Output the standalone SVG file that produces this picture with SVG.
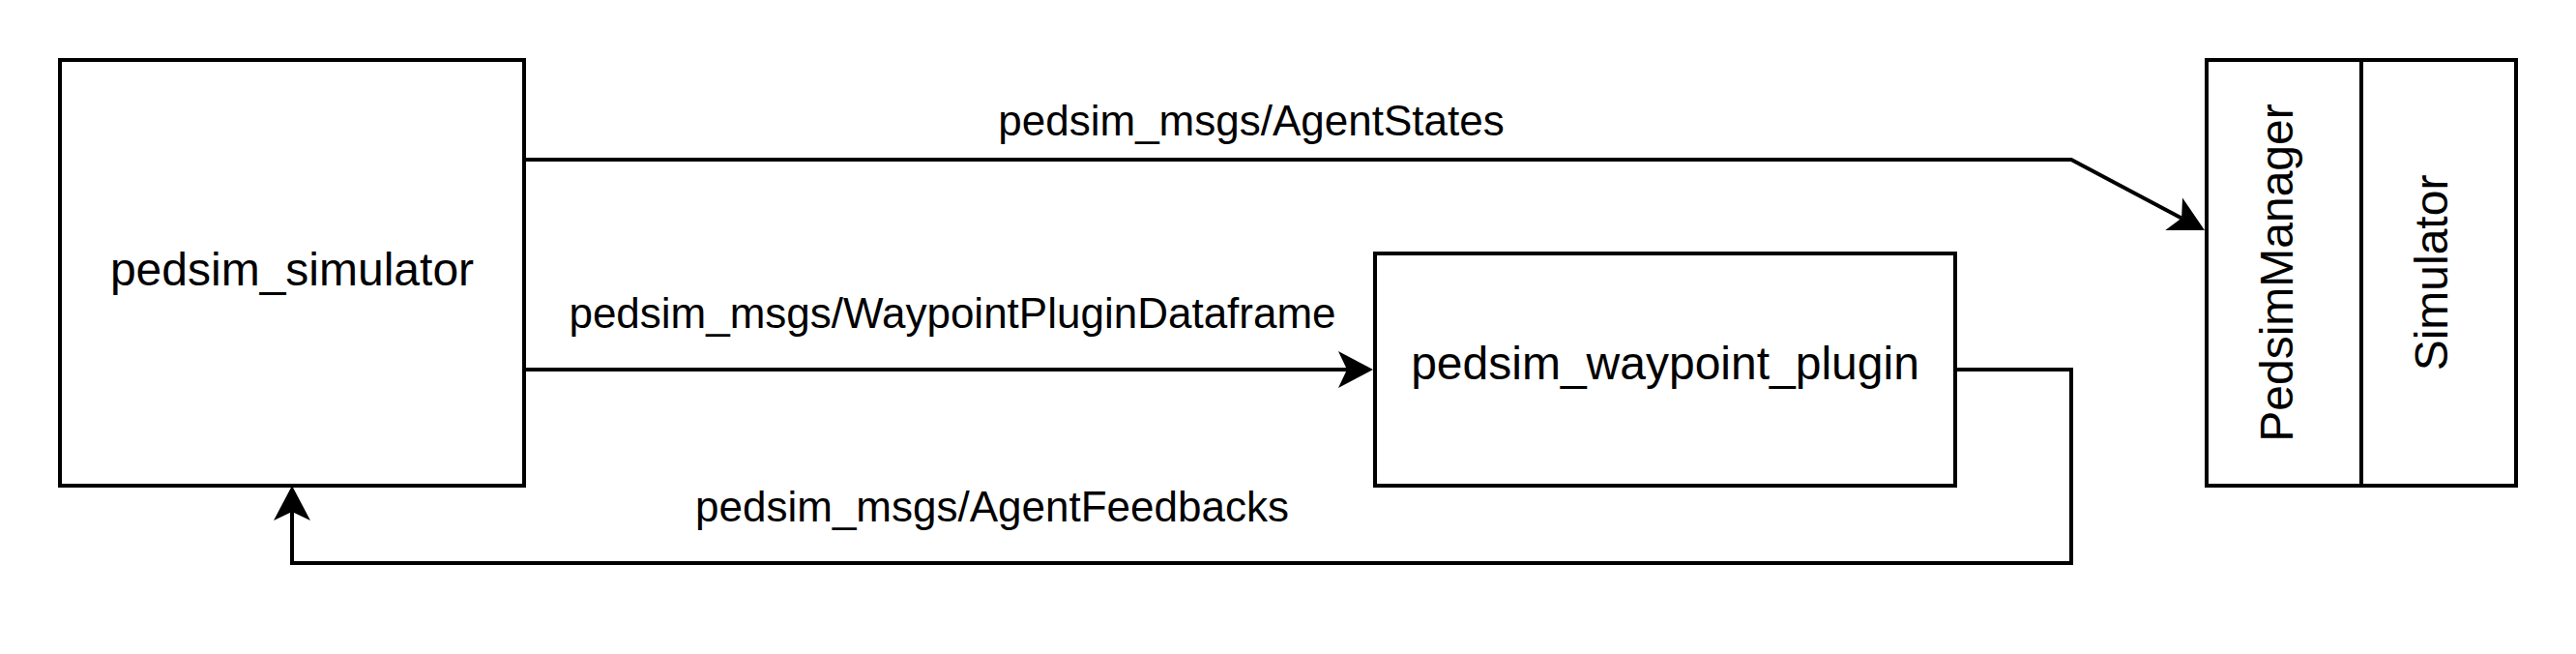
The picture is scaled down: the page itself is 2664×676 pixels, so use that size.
<svg xmlns="http://www.w3.org/2000/svg" width="2664" height="676" viewBox="0 0 2664 676">
  <style>
    .box { fill: #ffffff; stroke: #000000; stroke-width: 4; }
    .edge { fill: none; stroke: #000000; stroke-width: 4; }
    .lbl { font-family: "Liberation Sans", Arial, Helvetica, sans-serif; font-size: 48px; fill: #000000; text-anchor: middle; }
    .elbl { font-family: "Liberation Sans", Arial, Helvetica, sans-serif; font-size: 44px; fill: #000000; text-anchor: middle; }
  </style>
  <defs>
    <marker id="arrow" markerUnits="userSpaceOnUse" viewBox="0 -20 40 40" markerWidth="40" markerHeight="40" refX="9" refY="0" orient="auto" overflow="visible">
      <path d="M36,0 L0,-19 L9,0 L0,19 Z" fill="#000000"/>
    </marker>
  </defs>
  <rect width="2664" height="676" fill="#ffffff"/>

  <g id="connectors">
    <path class="edge" d="M542,165 L2142,165 L2256.1,225.4" marker-end="url(#arrow)"/>
    <path class="edge" d="M542,382 L1393,382" marker-end="url(#arrow)"/>
    <path class="edge" d="M2022,382 L2142,382 L2142,582 L302,582 L302,529" marker-end="url(#arrow)"/>
    <text class="elbl" x="1294" y="140">pedsim_msgs/AgentStates</text>
    <text class="elbl" x="985" y="339">pedsim_msgs/WaypointPluginDataframe</text>
    <text class="elbl" x="1026" y="539">pedsim_msgs/AgentFeedbacks</text>
  </g>

  <g id="pedsim_simulator">
    <rect class="box" x="62" y="62" width="480" height="440"/>
    <text class="lbl" x="302" y="295">pedsim_simulator</text>
  </g>

  <g id="pedsim_waypoint_plugin">
    <rect class="box" x="1422" y="262" width="600" height="240"/>
    <text class="lbl" x="1722" y="392">pedsim_waypoint_plugin</text>
  </g>

  <g id="simulator_group">
    <rect class="box" x="2282" y="62" width="320" height="440"/>
    <line class="edge" x1="2442" y1="62" x2="2442" y2="502"/>
    <text class="lbl" transform="translate(2362,282) rotate(-90)" x="0" y="9">PedsimManager</text>
    <text class="lbl" transform="translate(2522,282) rotate(-90)" x="0" y="9">Simulator</text>
  </g>
</svg>
